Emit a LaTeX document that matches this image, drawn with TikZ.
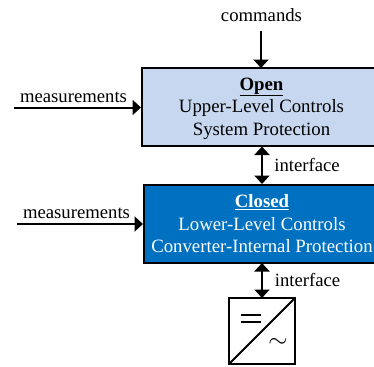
\documentclass[tikz,border=0pt]{standalone}
\usepackage{fontspec}
\setmainfont{Liberation Serif}
\usetikzlibrary{arrows.meta}
\definecolor{openfill}{RGB}{198,215,239}
\definecolor{closedfill}{RGB}{0,112,192}
\tikzset{
  x=1bp,y=-1bp,
  conn/.style={line width=2bp,-{Triangle[width=15bp,length=8.5bp]}},
  bidir/.style={line width=2bp,{Triangle[width=15bp,length=8.5bp]}-{Triangle[width=15bp,length=8.5bp]}},
  lbl/.style={inner sep=0pt,font=\fontsize{18.7bp}{20bp}\selectfont,text=black},
  blocktext/.style={inner sep=0pt,align=center,font=\fontsize{18.8bp}{22.5bp}\selectfont},
  blockbox/.style={draw=black,line width=2bp}
}
\begin{document}
\begin{tikzpicture}
\useasboundingbox (0,0) rectangle (374,367);
\clip (0,0) rectangle (374,367);
\fill[white] (0,0) rectangle (374,367);
\draw[blockbox,fill=openfill] (141.5,68) rectangle (376,146) coordinate (openbr);
\draw[blockbox,fill=closedfill] (143.5,184.5) rectangle (376,262.5);
\coordinate (opentop) at (261,68);
\coordinate (openleft) at (141,107.5);
\coordinate (openbot) at (262,146.5);
\coordinate (closedtop) at (262,184);
\coordinate (closedleft) at (143,224);
\coordinate (closedbot) at (262,263);
\coordinate (convtop) at (262,298);
\coordinate (cmdstart) at (261,31);
\coordinate (measA) at (14,107.5);
\coordinate (measB) at (17,224);
\node[lbl] (cmd) at (261.5,15) {commands};
\node[lbl] (mA) at (73.5,97.5) {measurements};
\node[lbl] (mB) at (76.5,213.5) {measurements};
\node[lbl] (ifA) at (307,165) {interface};
\node[lbl] (ifB) at (307.5,280.5) {interface};
\node[blocktext,text=black] (opentxt) at (261.5,108.5) {\textbf{\underline{Open}}\\Upper-Level Controls\\System Protection};
\node[blocktext,text=white] (closedtxt) at (262,224) {\textbf{\underline{Closed}}\\Lower-Level Controls\\Converter-Internal Protection};
\draw[conn] (cmdstart) -- (opentop);
\draw[conn] (measA) -- (openleft);
\draw[conn] (measB) -- (closedleft);
\draw[bidir] (openbot) -- (closedtop);
\draw[bidir] (closedbot) -- (convtop);
\node[draw=black,line width=2bp,minimum width=66bp,minimum height=66bp,inner sep=0pt,outer sep=0pt] (conv) at (262,331) {};
\draw[line width=2bp] (conv.south west) -- (conv.north east);
\draw[line width=1.2bp] (241,315) -- (261,315) (241,322) -- (261,322);
\node[inner sep=0pt,font=\fontsize{27bp}{27bp}\selectfont] (tilde) at (278,343) {$\sim$};
\end{tikzpicture}
\end{document}
